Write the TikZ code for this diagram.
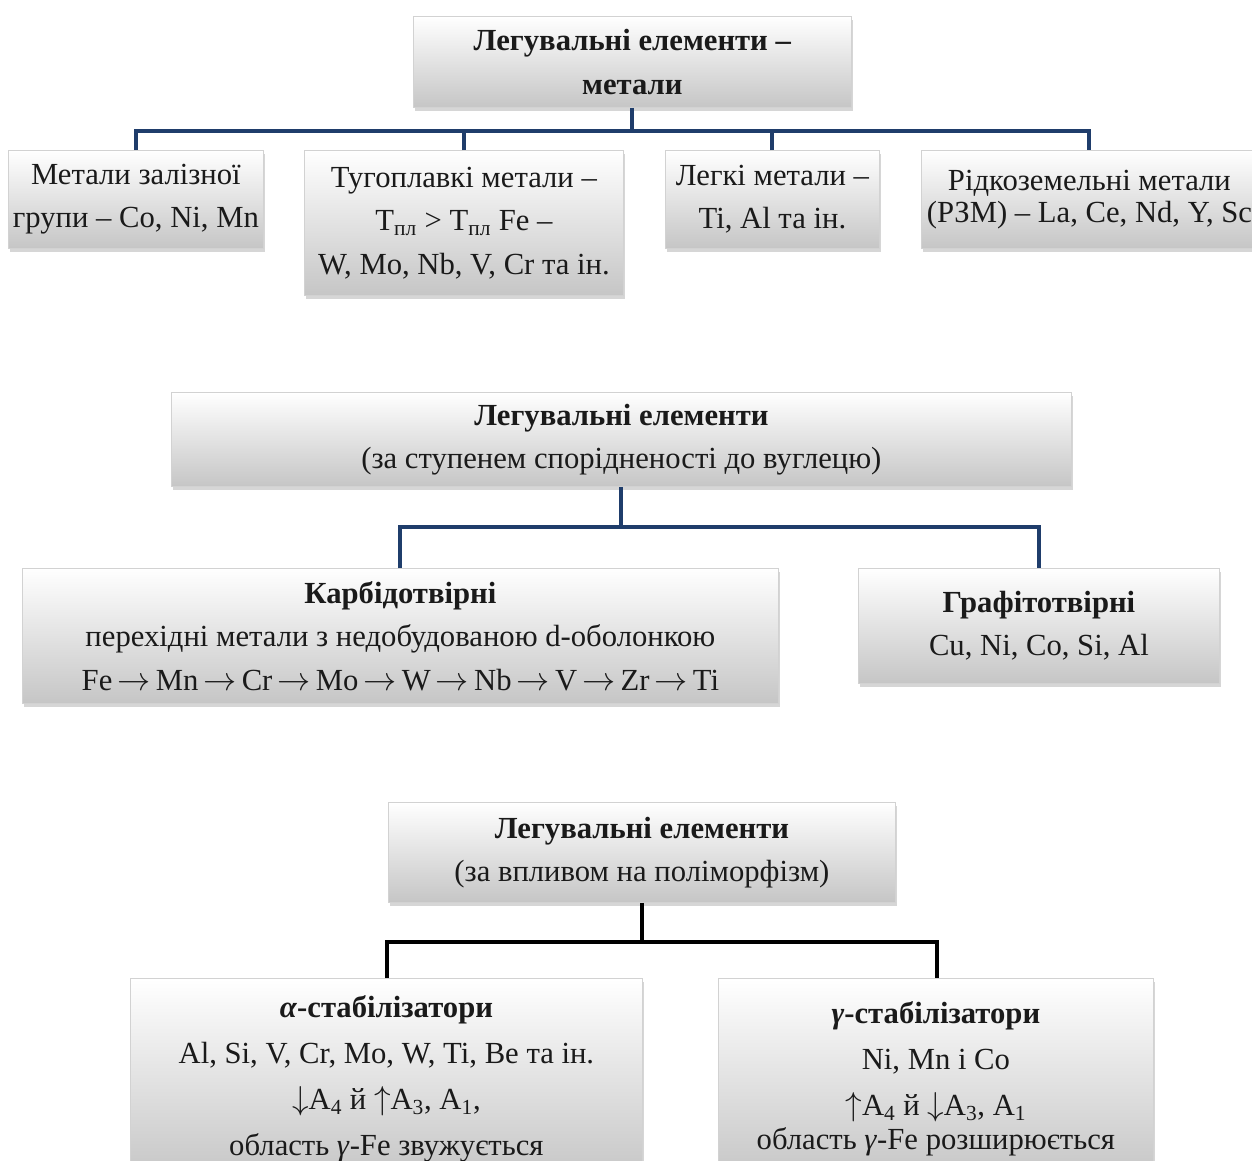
\documentclass[tikz,border=0pt]{standalone}
\usepackage{fontspec}
\setmainfont{Liberation Serif}
\usetikzlibrary{shadows}
\definecolor{navy}{HTML}{1F3D6B}
\definecolor{txt}{HTML}{1A1A1A}
\newcommand{\ar}{\ensuremath{\rightarrow}}
\tikzset{
  box/.style={draw=gray!35, line width=0.6pt, anchor=north west, inner sep=0pt,
    align=center, text=txt,
    top color=white, middle color=white!96!gray, bottom color=gray!45,
    drop shadow={shadow xshift=1.5pt, shadow yshift=-2.5pt, fill=gray!70, opacity=0.45}},
  fn/.style={font=\fontsize{23}{32.6}\selectfont},
  conn/.style={line width=3pt, navy, line join=miter},
  connb/.style={line width=3pt, black, line join=miter}
}
\begin{document}
\begin{tikzpicture}[x=0.75pt, y=-0.75pt]
\clip (0,0) rectangle (1252,1160);
\fill[white] (0,0) rectangle (1252,1160);
% ---- section 1
\node[box, fn, minimum width=438*0.75pt, minimum height=91*0.75pt] (t0) at (413,16)
  {\textbf{Легувальні елементи –}\\\textbf{метали}};
\node[box, fn, minimum width=255*0.75pt, minimum height=98*0.75pt] (b1) at (8,150)
  {Метали залізної\\групи – Co, Ni, Mn};
\node[box, fn, minimum width=319*0.75pt, minimum height=145*0.75pt] (b2) at (304,150)
  {Тугоплавкі метали –\\T\textsubscript{пл} > T\textsubscript{пл} Fe –\\W, Mo, Nb, V, Cr та ін.};
\node[box, fn, minimum width=214*0.75pt, minimum height=98*0.75pt] (b3) at (665,150)
  {Легкі метали –\\Ti, Al та ін.};
\node[box, font=\fontsize{23}{24}\selectfont, minimum width=336*0.75pt, minimum height=98*0.75pt] (b4) at (921,150)
  {Рідкоземельні метали\\(РЗМ) – La, Ce, Nd, Y, Sc};
\coordinate (h1) at (0,131);
\draw[conn] (t0.south) -- (t0.south |- h1);
\draw[conn] (b1.north) -- (b1.north |- h1) -- (b4.north |- h1) -- (b4.north);
\draw[conn] (b2.north) -- (b2.north |- h1);
\draw[conn] (b3.north) -- (b3.north |- h1);
% ---- section 2
\node[box, fn, minimum width=900*0.75pt, minimum height=94*0.75pt] (m0) at (171,392)
  {\textbf{Легувальні елементи}\\(за ступенем спорідненості до вуглецю)};
\node[box, fn, minimum width=756*0.75pt, minimum height=135*0.75pt] (m1) at (22,568)
  {\textbf{Карбідотвірні}\\перехідні метали з недобудованою d-оболонкою\\Fe\,\ar\,Mn\,\ar\,Cr\,\ar\,Mo\,\ar\,W\,\ar\,Nb\,\ar\,V\,\ar\,Zr\,\ar\,Ti};
\node[box, fn, minimum width=361*0.75pt, minimum height=115*0.75pt] (m2) at (858,568)
  {\textbf{Графітотвірні}\\Cu, Ni, Co, Si, Al};
\coordinate (h2) at (0,527);
\draw[conn] (m0.south) -- (m0.south |- h2);
\draw[conn] (m1.north) -- (m1.north |- h2) -- (m2.north |- h2) -- (m2.north);
% ---- section 3
\node[box, fn, minimum width=507*0.75pt, minimum height=100*0.75pt] (p0) at (388,802)
  {\textbf{Легувальні елементи}\\(за впливом на поліморфізм)};
\node[box, font=\fontsize{23}{34.5}\selectfont, minimum width=512*0.75pt, minimum height=200*0.75pt] (p1) at (130,978)
  {\textbf{\textit{α}-стабілізатори}\\Al, Si, V, Cr, Mo, W, Ti, Be та ін.\\$\downarrow$A\textsubscript{4} й $\uparrow$A\textsubscript{3}, A\textsubscript{1},\\область \textit{γ}-Fe звужується};
\node[box, font=\fontsize{23}{34.5}\selectfont, minimum width=435*0.75pt, minimum height=200*0.75pt] (p2) at (718,978)
  {\textbf{\textit{γ}-стабілізатори}\\Ni, Mn і Co\\$\uparrow$A\textsubscript{4} й $\downarrow$A\textsubscript{3}, A\textsubscript{1}\\[-9pt]область \textit{γ}-Fe розширюється};
\coordinate (h3) at (0,942);
\draw[connb] (p0.south) -- (p0.south |- h3);
\draw[connb] (p1.north -| 387,0) -- (387,942) -- (937,942) -- (p2.north -| 937,0);
\end{tikzpicture}
\end{document}
